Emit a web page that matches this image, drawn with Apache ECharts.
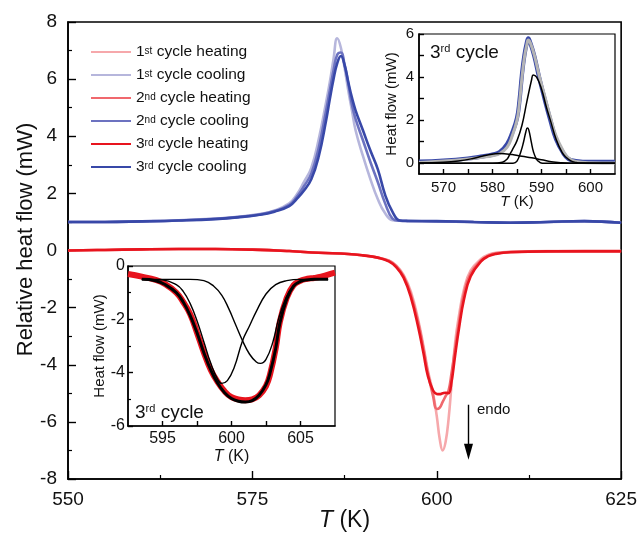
<!DOCTYPE html>
<html><head><meta charset="utf-8">
<script src="https://cdn.jsdelivr.net/npm/echarts@6/dist/echarts.min.js"></script>
<style>html,body{margin:0;padding:0;background:#fff}#c{width:640px;height:537px}</style>
</head><body><div id="c"></div>
<script>
// ---------- main chart data ----------
const seriesNames = ['1st cycle heating','1st cycle cooling','2nd cycle heating','2nd cycle cooling','3rd cycle heating','3rd cycle cooling'];
const seriesColors = ['#f6a8ab','#b6b6dc','#f0686d','#6c72c0','#e8141e','#3848a8'];

const coolT = [550,555,560,565,570,573,576,578,580,581,582,583,584,585,585.5,586,586.5,587,587.5,588,588.5,589,590,591,592,593,594,595,596,600,605,610,615,620,625];
const cool1 = [1.0,1.0,1.02,1.06,1.12,1.18,1.28,1.4,1.65,1.95,2.4,2.9,3.9,5.2,5.9,6.7,7.43,7.1,6.4,5.6,4.9,4.2,3.3,2.5,1.8,1.3,1.06,1.04,1.03,1.02,1.0,0.98,1.0,1.02,0.97];
const cool2 = [1.0,1.0,1.02,1.05,1.11,1.17,1.26,1.38,1.6,1.87,2.25,2.7,3.6,4.9,5.6,6.3,6.85,6.93,6.5,5.85,5.1,4.6,3.85,3.1,2.4,1.65,1.12,1.04,1.03,1.02,1.0,0.97,1.0,1.03,0.97];
const cool3 = [1.0,1.0,1.02,1.05,1.1,1.16,1.25,1.36,1.55,1.8,2.1,2.5,3.3,4.56,5.3,6.0,6.55,6.81,6.5,5.9,5.35,4.9,4.2,3.5,2.85,1.95,1.35,1.05,1.04,1.03,1.0,0.97,1.0,1.03,0.97];

const heatT = [550,555,560,565,570,575,580,584,588,590,592,593.5,594.5,595.5,596.5,597.5,598.2,598.8,599.5,600,600.4,600.8,601.2,601.6,602,602.5,603,603.7,604.6,606,607,608,610,615,620,625];
const heat1 = [0,0.02,0.04,0.05,0.05,0.03,-0.02,-0.08,-0.12,-0.17,-0.25,-0.35,-0.52,-0.85,-1.45,-2.45,-3.35,-4.2,-5.0,-5.8,-6.6,-7.0,-6.7,-5.9,-4.7,-3.2,-2.3,-1.35,-0.7,-0.3,-0.15,-0.08,-0.04,-0.02,-0.02,-0.02];
const heat2 = [0,0.02,0.04,0.05,0.05,0.03,-0.02,-0.08,-0.12,-0.17,-0.25,-0.36,-0.55,-0.9,-1.55,-2.55,-3.45,-4.3,-5.1,-5.55,-5.5,-5.3,-5.1,-4.9,-4.3,-3.4,-2.55,-1.5,-0.8,-0.35,-0.18,-0.1,-0.05,-0.03,-0.02,-0.02];
const heat3 = [0,0.02,0.04,0.05,0.05,0.03,-0.02,-0.08,-0.12,-0.17,-0.25,-0.38,-0.58,-0.95,-1.65,-2.7,-3.6,-4.4,-4.9,-5.02,-5.03,-5.0,-4.98,-5.0,-4.6,-3.65,-2.75,-1.7,-0.9,-0.38,-0.2,-0.12,-0.06,-0.03,-0.03,-0.03];

// endo arrow (T, value) start / end
const endoArrow = [[604.3,-5.4],[604.3,-7.05]];

// ---------- top-right inset (3rd cycle cooling) ----------
const insetCoolT = [565,570,575,578,580,581.5,583,584,585,585.5,586,586.5,587,587.3,587.7,588.5,589.5,590.5,591.8,593,594.5,595.5,597,600,605];
const insetCool  = [0.07,0.12,0.22,0.32,0.4,0.52,0.9,1.4,2.1,2.9,4.1,5.0,5.6,5.8,5.6,5.0,4.0,3.1,2.0,1.1,0.45,0.2,0.1,0.06,0.06];
const insetCoolFit = [0.03,0.1,0.2,0.28,0.35,0.45,0.75,1.25,2.0,2.8,3.95,4.9,5.5,5.72,5.6,5.05,4.1,3.25,2.15,1.25,0.55,0.25,0.08,0.02,0.01];
const peakAT = [565,580,582,583,583.5,584,585,586,587,588,588.3,589,590,591,591.8,593,594.2,595,596,597,598,605];
const peakA  = [0,0,0.05,0.2,0.4,0.6,1.05,1.75,2.85,3.9,4.1,4.0,3.45,2.6,2.0,1.1,0.5,0.28,0.11,0.04,0.01,0];
const peakBT = [565,584.2,585,585.8,586.3,586.8,587.1,587.4,587.9,588.4,589,589.6,590.2,605];
const peakB  = [0,0,0.1,0.55,0.95,1.45,1.63,1.55,1.0,0.5,0.18,0.05,0,0];
const peakCT = [565,570,573,576,579,581.5,584,586,588,590,592,594,596,605];
const peakC  = [0.01,0.04,0.1,0.22,0.38,0.45,0.4,0.32,0.25,0.16,0.07,0.02,0,0];

// ---------- bottom-left inset (3rd cycle heating) ----------
const insetHeatT = [592.5,593.5,594.5,595.2,596,596.5,597,597.5,598,598.5,599,599.5,600,600.5,601,601.5,602,602.5,602.8,603.2,603.5,604,604.5,605,605.5,606,606.5,607,607.5];
const insetHeat  = [-0.3,-0.4,-0.52,-0.68,-1.0,-1.35,-1.8,-2.5,-3.25,-3.9,-4.35,-4.7,-4.92,-5.0,-5.03,-5.0,-4.85,-4.5,-4.05,-3.1,-2.1,-1.2,-0.72,-0.55,-0.48,-0.45,-0.4,-0.32,-0.25];
const fitSumT = [593.5,594.5,595.2,596,596.5,597,597.5,598,598.5,599,599.5,600,600.5,601,601.5,602,602.5,602.8,603.2,603.5,604,604.5,605,605.5,606,607];
const fitSum  = [-0.5,-0.55,-0.7,-1.0,-1.35,-1.85,-2.5,-3.25,-3.9,-4.4,-4.75,-4.97,-5.07,-5.1,-5.05,-4.85,-4.45,-4.0,-3.1,-2.15,-1.25,-0.75,-0.58,-0.52,-0.5,-0.5];
const comp1T = [593.5,595,596,596.5,597,597.5,598,598.5,599,599.3,599.7,600.2,600.8,601.3,601.8,602.5,603.2,604,605,607];
const comp1  = [-0.5,-0.52,-0.7,-0.95,-1.4,-2.05,-2.85,-3.65,-4.25,-4.4,-4.3,-3.8,-2.8,-2.25,-1.7,-1.05,-0.7,-0.55,-0.5,-0.5];
const comp2T = [593.5,597,598,598.7,599.3,599.8,600.3,600.8,601.3,601.8,602.1,602.5,603,603.4,603.9,604.4,605,605.5,606,607];
const comp2  = [-0.5,-0.5,-0.55,-0.75,-1.1,-1.6,-2.2,-2.8,-3.3,-3.6,-3.65,-3.5,-2.85,-2.0,-1.25,-0.8,-0.58,-0.52,-0.5,-0.5];

const FONT = 'Liberation Sans, Arial, Helvetica, sans-serif';

function pairs(xs, ys){ return xs.map((x,i)=>[x, ys[i]]); }

function axisCommon(fs){
  return {
    axisLine:{show:true, onZero:false, lineStyle:{color:'#000', width:1.6}},
    axisTick:{show:true, inside:true, length:8, lineStyle:{color:'#000', width:1.4}},
    minorTick:{show:true, splitNumber:2, length:4, lineStyle:{color:'#000', width:1.2}},
    splitLine:{show:false},
    axisLabel:{color:'#111', fontSize:fs, fontFamily:FONT},
    nameTextStyle:{color:'#111', fontFamily:FONT},
    nameMoveOverlap:false
  };
}
function merge(a,b){ const o=Object.assign({},a); for(const k in b){ if(b[k] && typeof b[k]==='object' && !Array.isArray(b[k]) && o[k] && typeof o[k]==='object'){ o[k]=merge(o[k],b[k]); } else o[k]=b[k]; } return o; }

const mainData = [pairs(heatT,heat1), pairs(coolT,cool1), pairs(heatT,heat2), pairs(coolT,cool2), pairs(heatT,heat3), pairs(coolT,cool3)];

const series = seriesNames.map((n,i)=>({
  name:n, type:'line', xAxisIndex:0, yAxisIndex:0, data:mainData[i],
  showSymbol:false, symbol:'none', smooth:0.45,
  lineStyle:{color:seriesColors[i], width:2.6}, itemStyle:{color:seriesColors[i]},
  z: 2+i
}));
// endo arrow
series[4].markLine = {
  silent:true, symbol:['none','triangle'], symbolSize:[9,16],
  lineStyle:{color:'#000', width:1.4, type:'solid'}, label:{show:false},
  data:[[{coord:endoArrow[0]},{coord:endoArrow[1]}]]
};

function insetLine(name, xs, ys, xi, color, width, z){
  return {name, type:'line', xAxisIndex:xi, yAxisIndex:xi, data:pairs(xs,ys), showSymbol:false, symbol:'none',
    smooth:0.45, lineStyle:{color, width}, z};
}
series.push(
  insetLine('i1cool', insetCoolT, insetCool, 1, '#3848a8', 4.2, 20),
  insetLine('i1fit', insetCoolT, insetCoolFit, 1, '#b4b4b4', 3, 21),
  insetLine('i1a', peakAT, peakA, 1, '#000', 1.5, 22),
  insetLine('i1b', peakBT, peakB, 1, '#000', 1.5, 22),
  insetLine('i1c', peakCT, peakC, 1, '#000', 1.5, 22),
  insetLine('i2heat', insetHeatT, insetHeat, 2, '#e8141e', 6, 20),
  insetLine('i2c1', comp1T, comp1, 2, '#000', 1.4, 21),
  insetLine('i2c2', comp2T, comp2, 2, '#000', 1.4, 21),
  insetLine('i2sum', fitSumT, fitSum, 2, '#000', 3, 22)
);

const supRich = {sup:{fontSize:10, verticalAlign:'top', fontFamily:FONT, color:'#111'}};
function supFmt(name){ return name.replace(/^(\d)(st|nd|rd)/, '$1{sup|$2}'); }

const option = {
  animation:false,
  backgroundColor:'#fff',
  textStyle:{fontFamily:FONT},
  legend:{
    data:seriesNames, orient:'vertical', left:86, top:39, itemWidth:40, itemHeight:14, itemGap:7,
    icon:'path://M0,6 L40,6 L40,8 L0,8 Z',
    formatter:supFmt,
    textStyle:{fontSize:15.5, color:'#111', fontFamily:FONT, lineHeight:12, rich:supRich}
  },
  grid:[
    {left:68, top:22, right:16, bottom:58, show:true, borderColor:'#000', borderWidth:1.6, backgroundColor:'transparent'},
    {left:419, top:34, width:196, height:140, show:true, borderColor:'#000', borderWidth:1.2, backgroundColor:'#fff'},
    {left:128, top:266, width:207, height:160, show:true, borderColor:'#000', borderWidth:1.2, backgroundColor:'#fff'}
  ],
  xAxis:[
    merge(axisCommon(19), {gridIndex:0, type:'value', min:550, max:625, interval:25,
      axisLabel:{margin:11},
      name:'{i|T} (K)', nameLocation:'middle', nameGap:30,
      nameTextStyle:{fontSize:23, rich:{i:{fontStyle:'italic', fontSize:23, fontFamily:FONT, color:'#111'}}}}),
    merge(axisCommon(15), {gridIndex:1, type:'value', min:565, max:605,
      axisTick:{length:5, customValues:[570,575,580,585,590,595,600]},
      minorTick:{show:false},
      axisLabel:{margin:6, customValues:[570,580,590,600]},
      name:'{i|T} (K)', nameLocation:'middle', nameGap:20,
      nameTextStyle:{fontSize:15, rich:{i:{fontStyle:'italic', fontSize:15, fontFamily:FONT, color:'#111'}}}}),
    merge(axisCommon(16), {gridIndex:2, type:'value', min:592.5, max:607.5,
      axisTick:{length:5, customValues:[595,597.5,600,602.5,605]},
      minorTick:{show:false},
      axisLabel:{margin:5, customValues:[595,600,605]},
      name:'{i|T} (K)', nameLocation:'middle', nameGap:23,
      nameTextStyle:{fontSize:16, rich:{i:{fontStyle:'italic', fontSize:16, fontFamily:FONT, color:'#111'}}}})
  ],
  yAxis:[
    merge(axisCommon(19), {gridIndex:0, type:'value', min:-8, max:8, interval:2,
      axisLabel:{margin:11},
      name:'Relative heat flow (mW)', nameLocation:'middle', nameGap:31, nameRotate:90,
      nameTextStyle:{fontSize:22, padding:[0,0,0,22]}}),
    merge(axisCommon(15), {gridIndex:1, type:'value', min:-0.5, max:6,
      axisTick:{length:5, customValues:[0,1,2,3,4,5,6]},
      minorTick:{show:false},
      axisLabel:{margin:5, customValues:[0,2,4,6]},
      name:'Heat flow (mW)', nameLocation:'middle', nameGap:20, nameRotate:90,
      nameTextStyle:{fontSize:15}}),
    merge(axisCommon(16), {gridIndex:2, type:'value', min:-6, max:0, interval:2,
      axisTick:{length:5}, minorTick:{length:3},
      axisLabel:{margin:3},
      name:'Heat flow (mW)', nameLocation:'middle', nameGap:21, nameRotate:90,
      nameTextStyle:{fontSize:15}})
  ],
  graphic:[
    {type:'text', left:430, top:43, z:100, style:{text:'3{sup|rd} cycle', font:'19px '+FONT, fill:'#111',
      rich:{sup:{fontSize:11, verticalAlign:'top', fontFamily:FONT, fill:'#111'}}}},
    {type:'text', left:135, top:403, z:100, style:{text:'3{sup|rd} cycle', font:'19px '+FONT, fill:'#111',
      rich:{sup:{fontSize:11, verticalAlign:'top', fontFamily:FONT, fill:'#111'}}}},
    {type:'text', left:477, top:402, z:100, style:{text:'endo', font:'15px '+FONT, fill:'#111'}}
  ],
  series
};
const chart = echarts.init(document.getElementById('c'), null, {renderer:'canvas'});
chart.setOption(option);
</script></body></html>
